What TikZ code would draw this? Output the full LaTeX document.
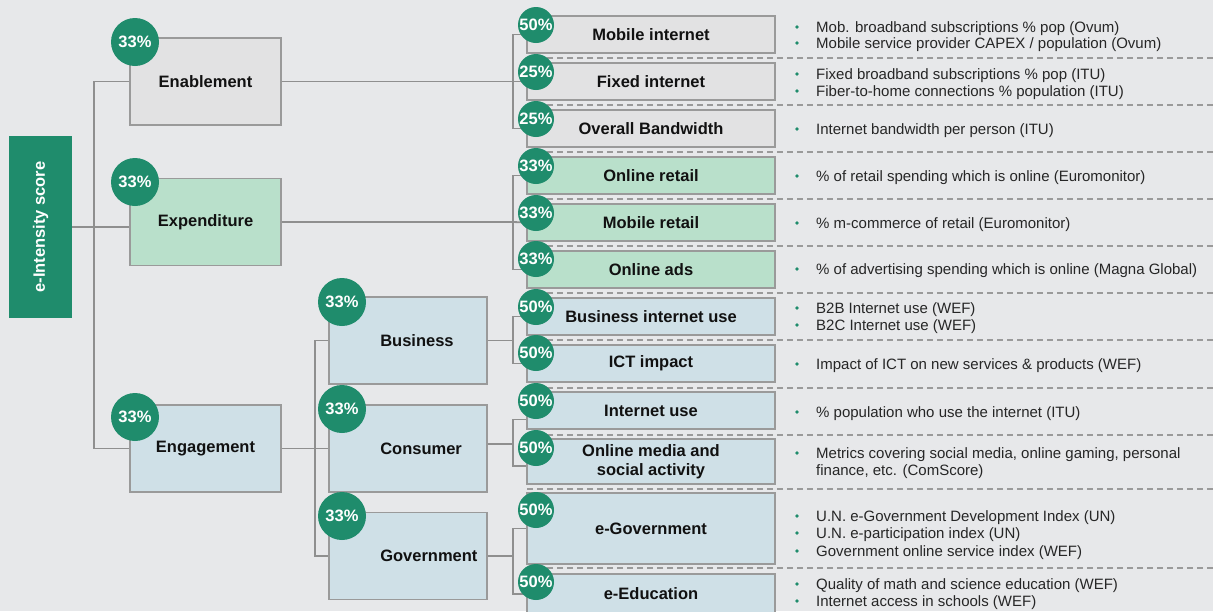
\documentclass[tikz,border=0pt]{standalone}
\usepackage{fontspec}
\usepackage{graphicx}
\setmainfont{Liberation Sans}
\usetikzlibrary{positioning,calc}

\definecolor{bggray}{HTML}{E7E8EA}
\definecolor{eigreen}{HTML}{1F8C6C}
\definecolor{boxgray}{HTML}{9A9A9A}
\definecolor{linkgray}{HTML}{8F8F8F}
\definecolor{plainfill}{HTML}{E2E2E3}
\definecolor{mintfill}{HTML}{B9E0CB}
\definecolor{bluefill}{HTML}{CFE0E7}
\definecolor{labeltext}{HTML}{111111}
\definecolor{metrictext}{HTML}{262626}

\newcommand{\labelfont}{\fontsize{16.5}{18.5}\selectfont\bfseries}
\newcommand{\metricfont}{\fontsize{15}{17}\selectfont}

% one bullet line of the metric column
\newcommand{\metricline}[3]{%
    \node[dot] (#1dot) at (797,#2) {};
    \node[metric] (#1) at (816,#2+5) {#3};
}

\tikzset{
    on grid,
    node distance=47pt,
    box/.style = {
        draw=boxgray,
        shape=rectangle,
        line width=1.8pt,
        inner sep=2pt,
        align=center,
        font=\labelfont,
        text=labeltext
    },
    catbox/.style = {
        box,
        minimum width=151pt,
        minimum height=87pt
    },
    subbox/.style = {
        box,
        minimum width=158pt,
        minimum height=87pt
    },
    itembox/.style = {
        box,
        minimum width=248pt,
        minimum height=37pt
    },
    sublabel/.style = {
        anchor=west,
        font=\labelfont,
        text=labeltext,
        inner sep=0pt
    },
    scorebox/.style = {
        shape=rectangle,
        fill=eigreen,
        text=white,
        font=\labelfont,
        minimum width=63pt,
        minimum height=182pt
    },
    badge/.style = {
        shape=circle,
        fill=eigreen,
        text=white,
        font=\labelfont,
        inner sep=0pt
    },
    bigbadge/.style = {badge, minimum size=48pt},
    smallbadge/.style = {badge, minimum size=36pt},
    link/.style = {draw=linkgray, line width=1.8pt},
    sep/.style = {draw=boxgray, line width=1.3pt, dash pattern=on 6pt off 4pt},
    dot/.style = {shape=circle, fill=eigreen, inner sep=0pt, minimum size=3.6pt},
    metric/.style = {anchor=base west, font=\metricfont, text=metrictext, inner sep=0pt},
}

\begin{document}
\begin{tikzpicture}[x=1pt,y=-1pt]
    \useasboundingbox (0,0) rectangle (1213,611);
    \clip (0,0) rectangle (1213,611);
    \fill[bggray] (0,0) rectangle (1213,611);

    % dashed row separators
    \foreach \y in {58,105,152,199,246,293,340,388,435,489,568}
        \path[sep] (527,\y) -- (1213,\y);

    % tree
    \node[scorebox] (score) at (40.5,227) {\rotatebox{90}{e-Intensity score}};

    \node[catbox, fill=plainfill] (enable) at (205.5,81.5) {Enablement};
    \node[catbox, fill=mintfill] (expend) at (205.5,222) {Expenditure};
    \node[catbox, fill=bluefill] (engage) at (205.5,448.5) {Engagement};

    \node[subbox, fill=bluefill] (business) at (408,340.5) {};
    \node[subbox, fill=bluefill] (consumer) at (408,448.5) {};
    \node[subbox, fill=bluefill] (govt) at (408,556) {};
    \node[sublabel] (businesstxt) at ([xshift=52pt]business.west) {Business};
    \node[sublabel] (consumertxt) at ([xshift=52pt]consumer.west) {Consumer};
    \node[sublabel] (govttxt) at ([xshift=52pt]govt.west) {Government};

    \node[itembox, fill=plainfill] (mobint) at (651,34.5) {Mobile internet};
    \node[itembox, fill=plainfill, below of=mobint] (fixint) {Fixed internet};
    \node[itembox, fill=plainfill, below of=fixint] (ovbw) {Overall Bandwidth};
    \node[itembox, fill=mintfill, below of=ovbw] (onret) {Online retail};
    \node[itembox, fill=mintfill, below of=onret] (mobret) {Mobile retail};
    \node[itembox, fill=mintfill, below of=mobret] (onads) {Online ads};
    \node[itembox, fill=bluefill, below of=onads] (bizuse) {Business internet use};
    \node[itembox, fill=bluefill, below of=bizuse] (ict) {ICT impact};
    \node[itembox, fill=bluefill, below of=ict] (inetuse) {Internet use};
    \node[itembox, fill=bluefill, minimum height=45pt] (onmedia) at (651,461.5) {Online media and\\social activity};
    \node[itembox, fill=bluefill, minimum height=71pt] (egov) at (651,528.5) {e-Government};
    \node[itembox, fill=bluefill, minimum height=40pt] (eedu) at (651,594) {e-Education};

    % connectors
    \coordinate (trunk) at (94,227);
    \coordinate (engjoin) at (315,448.5);
    \coordinate (enjoin) at (513,81.5);
    \coordinate (exjoin) at (513,222);
    \coordinate (bujoin) at (513,340.5);
    \coordinate (cojoin) at (513,444);
    \coordinate (gojoin) at (513,556);

    \path[link] (score.east) -- (score.east -| expend.west);
    \path[link] (enable.west) -| (trunk) |- (engage.west);

    \path[link] (enable.east) -- (enjoin);
    \path[link] (mobint.west) -| (enjoin) |- (ovbw.west);
    \path[link] (enjoin) -- (fixint.west);

    \path[link] (expend.east) -- (exjoin);
    \path[link] (onret.west) -| (exjoin) |- (onads.west);
    \path[link] (exjoin) -- (mobret.west);

    \path[link] (engage.east) -- (consumer.west);
    \path[link] (business.west) -| (engjoin) |- (govt.west);

    \path[link] (business.east) -- (bujoin);
    \path[link] (bizuse.west) -| (bujoin) |- (ict.west);

    \path[link] ([yshift=4.5pt]consumer.east) -- (cojoin);
    \path[link] ([yshift=-9pt]inetuse.west) -| (cojoin) |- ([yshift=-4.5pt]onmedia.west);

    \path[link] (govt.east) -- (gojoin);
    \path[link] (egov.west) -| (gojoin) |- (eedu.west);

    % weights
    \node[bigbadge] (enablew) at (135,42) {33\%};
    \node[bigbadge] (expendw) at (135,182) {33\%};
    \node[bigbadge] (engagew) at (135,417) {33\%};
    \node[bigbadge] (businessw) at (342,302) {33\%};
    \node[bigbadge] (consumerw) at (342,409) {33\%};
    \node[bigbadge] (govtw) at (342,516) {33\%};

    \foreach \name/\y/\w in {mobintw/25/50, fixintw/72/25, ovbww/119/25,
            onretw/166/33, mobretw/213/33, onadsw/259/33, bizusew/307/50,
            ictw/353/50, inetusew/401/50, onmediaw/448/50, egovw/510/50, eeduw/582/50}
        \node[smallbadge] (\name) at (536,\y) {\w\%};

    % metrics
    \metricline{mobA}{27}{Mob. broadband subscriptions \% pop (Ovum)}
    \metricline{mobB}{43}{Mobile service provider CAPEX / population (Ovum)}
    \metricline{fixA}{74}{Fixed broadband subscriptions \% pop (ITU)}
    \metricline{fixB}{91}{Fiber-to-home connections \% population (ITU)}
    \metricline{bwA}{129}{Internet bandwidth per person (ITU)}
    \metricline{retA}{176}{\% of retail spending which is online (Euromonitor)}
    \metricline{mretA}{223}{\% m-commerce of retail (Euromonitor)}
    \metricline{adsA}{269}{\% of advertising spending which is online (Magna Global)}
    \metricline{bizA}{308}{B2B Internet use (WEF)}
    \metricline{bizB}{325}{B2C Internet use (WEF)}
    \metricline{ictA}{364}{Impact of ICT on new services \& products (WEF)}
    \metricline{useA}{412}{\% population who use the internet (ITU)}
    \metricline{medA}{453}{Metrics covering social media, online gaming, personal}
    \node[metric] (medB) at (816,475) {finance, etc. (ComScore)};
    \metricline{govA}{516}{U.N. e-Government Development Index (UN)}
    \metricline{govB}{533}{U.N. e-participation index (UN)}
    \metricline{govC}{551}{Government online service index (WEF)}
    \metricline{eduA}{584}{Quality of math and science education (WEF)}
    \metricline{eduB}{601}{Internet access in schools (WEF)}
\end{tikzpicture}
\end{document}
